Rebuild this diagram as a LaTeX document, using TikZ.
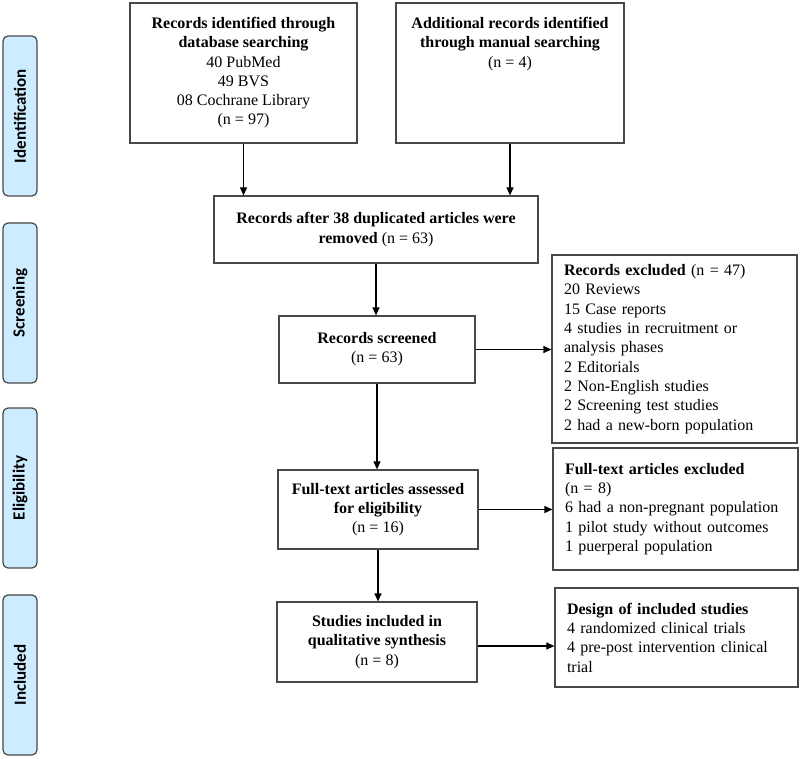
\documentclass[tikz,border=0pt]{standalone}
\usepackage{fontspec}
\setmainfont{Liberation Serif}
\newfontfamily\labelfont{Carlito}
\usetikzlibrary{arrows.meta}
\definecolor{lblfill}{RGB}{206,236,255}
\definecolor{boxline}{RGB}{72,72,72}
\begin{document}
\begin{tikzpicture}[x=1pt,y=-1pt,
  box/.style={draw=boxline, line width=1.2pt, inner sep=0pt, align=center,
    font=\fontsize{16}{19.3}\selectfont},
  rbox/.style={box, align=left, inner xsep=12pt, inner ysep=0pt},
  txt/.style={inner sep=0pt, align=center, font=\fontsize{16}{19.3}\selectfont},
  lbl/.style={draw=boxline, fill=lblfill, rounded corners=5pt, line width=1.2pt,
    rotate=90, minimum width=160pt, minimum height=34pt, inner sep=0pt,
    font=\labelfont\bfseries\fontsize{17}{20}\selectfont},
  arr/.style={-{Triangle[length=8pt,width=7pt]}, line width=1.2pt, black}]
\useasboundingbox (0,0) rectangle (800,759);

% phase labels
\node[lbl] (L1) at (20,116) {Identification};
\node[lbl] (L2) at (20,303) {Screening};
\node[lbl] (L3) at (20,488) {Eligibility};
\node[lbl] (L4) at (20,675) {Included};

% top boxes
\node[box, minimum width=227pt, minimum height=140pt] (A) at (243.5,73) {};
\node[txt, anchor=north] (At) at (243.5,17) {\textbf{Records identified through}\\\textbf{database searching}\\40 PubMed\\49 BVS\\08 Cochrane Library\\(n = 97)};
\node[box, minimum width=228pt, minimum height=140pt] (B) at (510,73) {};
\node[txt, anchor=north] (Bt) at (510,17) {\textbf{Additional records identified}\\\textbf{through manual searching}\\(n = 4)};

% main flow
\node[box, minimum width=324pt, minimum height=67pt] (C) at (376,229.5) {\textbf{Records after 38 duplicated articles were}\\\textbf{removed} (n = 63)};
\node[box, minimum width=196pt, minimum height=67pt] (D) at (377,349.5) {\textbf{Records screened}\\(n = 63)};
\node[box, minimum width=200pt, minimum height=79pt] (E) at (378,509.5) {\textbf{Full-text articles assessed}\\\textbf{for eligibility}\\(n = 16)};
\node[box, minimum width=200pt, minimum height=80pt] (F) at (377,642) {\textbf{Studies included in}\\\textbf{qualitative synthesis}\\(n = 8)};

% right boxes
\node[rbox, text width=221pt, minimum height=188pt] (G) at (674.5,349) {\textbf{Records excluded} (n = 47)\\20 Reviews\\15 Case reports\\4 studies in recruitment or\\analysis phases\\2 Editorials\\2 Non-English studies\\2 Screening test studies\\2 had a new-born population};
\node[rbox, text width=221pt, minimum height=122pt] (H) at (675.5,509) {\textbf{Full-text articles excluded}\\(n = 8)\\6 had a non-pregnant population\\1 pilot study without outcomes\\1 puerperal population};
\node[rbox, text width=219pt, minimum height=99pt] (I) at (676.5,637.5) {\textbf{Design of included studies}\\4 randomized clinical trials\\4 pre-post intervention clinical\\trial};

% connectors
\draw[arr] (A.south) -- (A.south |- C.north);
\draw[arr] (B.south) -- (B.south |- C.north);
\draw[arr] (C.south) -- (C.south |- D.north);
\draw[arr] (D.south) -- (D.south |- E.north);
\draw[arr] (E.south) -- (E.south |- F.north);
\draw[arr] (D.east) -- (D.east -| G.west);
\draw[arr] (E.east) -- (E.east -| H.west);
\draw[arr] ([yshift=-4pt]F.east) -- ([yshift=-4pt]F.east -| I.west);
\end{tikzpicture}
\end{document}
